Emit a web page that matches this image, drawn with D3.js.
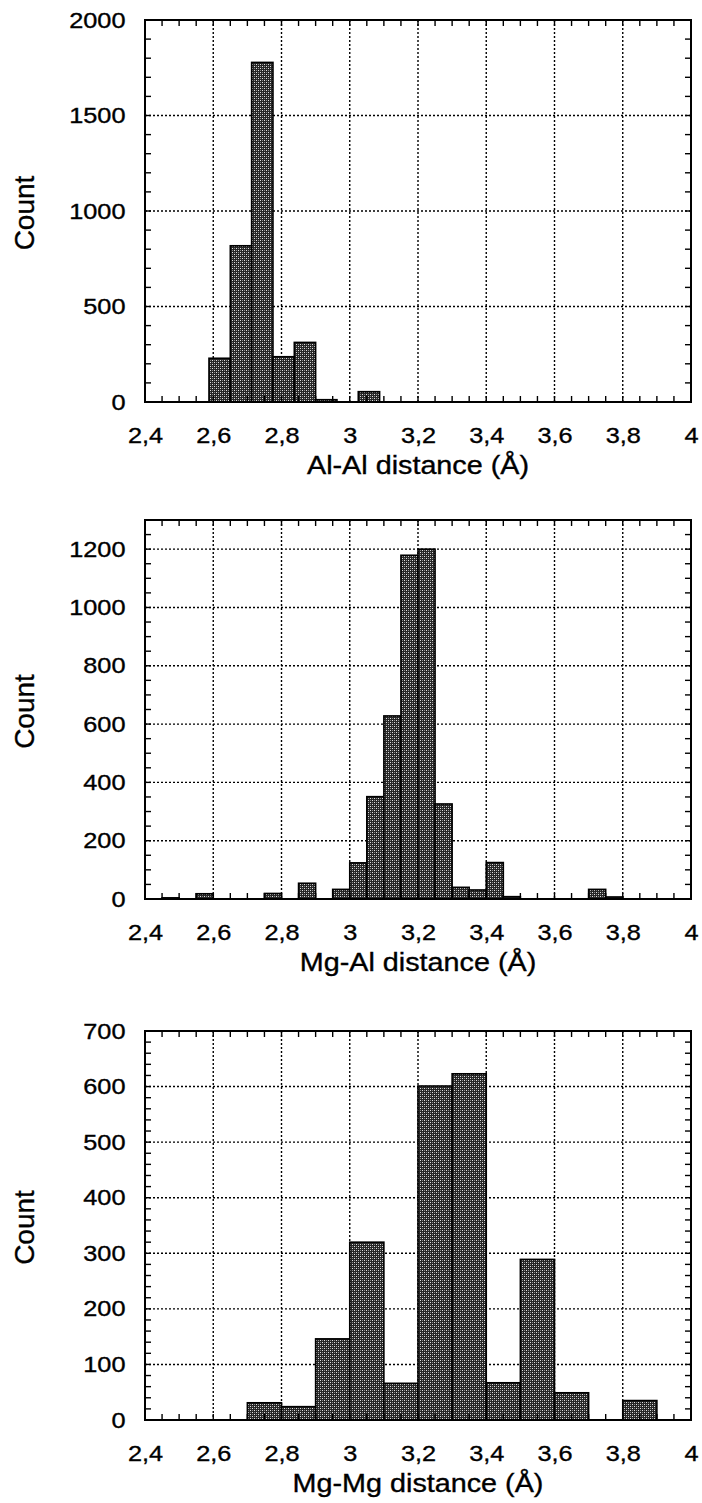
<!DOCTYPE html>
<html lang="en">
<head>
<meta charset="UTF-8">
<title>Distance histograms</title>
<style>
    body {
        margin: 0;
        padding: 0;
        background: #fff;
    }

    svg {
        display: block;
    }

    text {
        font-family: "Liberation Sans", Arial, Helvetica, sans-serif;
        fill: #000;
        stroke: #000;
        stroke-width: 0.35px;
    }
</style>
</head>
<body>
<div id="chart"></div>
<script src="https://cdn.jsdelivr.net/npm/d3@7"></script>
<script>
    // shared x ticks (distance, Å)
    const xTicks = [2.4, 2.6, 2.8, 3.0, 3.2, 3.4, 3.6, 3.8, 4.0];

    // Al-Al histogram
    const alalBinStart = 2.5875;
    const alalBinWidth = 0.0625;
    const alalCounts = [229, 818, 1778, 237, 312, 12, 0, 54];
    const alalYTicks = [0, 500, 1000, 1500, 2000];

    // Mg-Al histogram
    const mgalBinStart = 2.4;
    const mgalBinWidth = 0.05;
    const mgalCounts = [0, 4, 0, 18, 0, 0, 0, 19, 0, 54, 0, 33, 124, 351, 628, 1179,
        1200, 326, 40, 31, 125, 8, 0, 0, 0, 0, 33, 7, 0, 0, 0, 0];
    const mgalYTicks = [0, 200, 400, 600, 800, 1000, 1200];

    // Mg-Mg histogram
    const mgmgBinStart = 2.4;
    const mgmgBinWidth = 0.1;
    const mgmgCounts = [0, 0, 0, 31, 24, 146, 320, 66, 601, 623, 67, 289, 49, 0, 35, 0];
    const mgmgYTicks = [0, 100, 200, 300, 400, 500, 600, 700];

    const w = 702;
    const h = 1503;
    const left = 145;
    const right = 691;
    const stretch = 1.15; // the scanned lettering is a bit wider than Arial

    const panels = [
        { title: "Al-Al distance (Å)", start: alalBinStart, bw: alalBinWidth, counts: alalCounts,
          yTicks: alalYTicks, yMax: 2000, yMinor: 100, top: 20, bottom: 402 },
        { title: "Mg-Al distance (Å)", start: mgalBinStart, bw: mgalBinWidth, counts: mgalCounts,
          yTicks: mgalYTicks, yMax: 1300, yMinor: 50, top: 520, bottom: 899 },
        { title: "Mg-Mg distance (Å)", start: mgmgBinStart, bw: mgmgBinWidth, counts: mgmgCounts,
          yTicks: mgmgYTicks, yMax: 700, yMinor: 20, top: 1031, bottom: 1420 }
    ];

    const svg = d3.select("#chart")
        .append("svg")
        .attr("width", w)
        .attr("height", h)
        .style("background", "#fff");

    // dithered fill like the printed bars
    const pat = svg.append("defs").append("pattern")
        .attr("id", "dither")
        .attr("patternUnits", "userSpaceOnUse")
        .attr("width", 4)
        .attr("height", 4);
    pat.append("rect").attr("width", 4).attr("height", 4).attr("fill", "#262626");
    pat.append("rect").attr("x", 0).attr("y", 0).attr("width", 1).attr("height", 1).attr("fill", "#e0e0e0");
    pat.append("rect").attr("x", 2).attr("y", 2).attr("width", 1).attr("height", 1).attr("fill", "#e0e0e0");
    pat.append("rect").attr("x", 2).attr("y", 0).attr("width", 1).attr("height", 1).attr("fill", "#8a8a8a");
    pat.append("rect").attr("x", 0).attr("y", 2).attr("width", 1).attr("height", 1).attr("fill", "#8a8a8a");

    const fmt = d => String(+d.toFixed(2)).replace(".", ",");

    const x = d3.scaleLinear().domain([2.4, 4.0]).range([left, right]);

    panels.forEach(p => {
        const y = d3.scaleLinear().domain([0, p.yMax]).range([p.bottom, p.top]);
        const g = svg.append("g");

        // dotted grid
        g.selectAll(".vgrid")
            .data(xTicks.slice(1, -1))
            .enter()
            .append("line")
            .attr("x1", d => x(d)).attr("x2", d => x(d))
            .attr("y1", p.top).attr("y2", p.bottom)
            .attr("stroke", "#000")
            .attr("stroke-width", 1.4)
            .attr("stroke-dasharray", "2,2");

        g.selectAll(".hgrid")
            .data(p.yTicks.filter(t => t > 0 && t < p.yMax))
            .enter()
            .append("line")
            .attr("x1", left).attr("x2", right)
            .attr("y1", d => y(d)).attr("y2", d => y(d))
            .attr("stroke", "#000")
            .attr("stroke-width", 1.4)
            .attr("stroke-dasharray", "2,2");

        // bars
        const bins = p.counts
            .map((c, i) => ({ x0: p.start + i * p.bw, x1: p.start + (i + 1) * p.bw, c: c }))
            .filter(b => b.c > 0);

        g.selectAll(".bar")
            .data(bins)
            .enter()
            .append("rect")
            .attr("x", d => x(d.x0))
            .attr("width", d => x(d.x1) - x(d.x0))
            .attr("y", d => y(d.c))
            .attr("height", d => y(0) - y(d.c))
            .attr("fill", "url(#dither)")
            .attr("stroke", "#000")
            .attr("stroke-width", 1.6);

        // minor ticks, inside, on all four sides
        const xMinor = d3.range(1, 32).map(i => 2.4 + i * 0.05);
        const yMinor = d3.range(1, Math.round(p.yMax / p.yMinor)).map(i => i * p.yMinor);
        const tl = 6;

        g.selectAll(".xtb")
            .data(xMinor)
            .enter()
            .append("line")
            .attr("x1", d => x(d)).attr("x2", d => x(d))
            .attr("y1", p.bottom).attr("y2", p.bottom - tl)
            .attr("stroke", "#000").attr("stroke-width", 1.4);
        g.selectAll(".xtt")
            .data(xMinor)
            .enter()
            .append("line")
            .attr("x1", d => x(d)).attr("x2", d => x(d))
            .attr("y1", p.top).attr("y2", p.top + tl)
            .attr("stroke", "#000").attr("stroke-width", 1.4);
        g.selectAll(".ytl")
            .data(yMinor)
            .enter()
            .append("line")
            .attr("x1", left).attr("x2", left + tl)
            .attr("y1", d => y(d)).attr("y2", d => y(d))
            .attr("stroke", "#000").attr("stroke-width", 1.4);
        g.selectAll(".ytr")
            .data(yMinor)
            .enter()
            .append("line")
            .attr("x1", right).attr("x2", right - tl)
            .attr("y1", d => y(d)).attr("y2", d => y(d))
            .attr("stroke", "#000").attr("stroke-width", 1.4);

        // frame
        g.append("rect")
            .attr("x", left)
            .attr("y", p.top)
            .attr("width", right - left)
            .attr("height", p.bottom - p.top)
            .attr("fill", "none")
            .attr("stroke", "#000")
            .attr("stroke-width", 2);

        // tick labels
        const xAxis = g.append("g")
            .attr("transform", `translate(0, ${p.bottom})`)
            .call(d3.axisBottom(x).tickValues(xTicks).tickFormat(fmt).tickSize(0).tickPadding(25));
        xAxis.select(".domain").remove();
        xAxis.selectAll("text")
            .attr("font-size", 22)
            .attr("transform", `scale(${stretch},1)`);

        const yAxis = g.append("g")
            .attr("transform", `translate(${left}, 0)`)
            .call(d3.axisLeft(y).tickValues(p.yTicks).tickFormat(d3.format("d")).tickSize(0).tickPadding(17));
        yAxis.select(".domain").remove();
        yAxis.selectAll("text")
            .attr("font-size", 22)
            .attr("transform", `scale(${stretch},1)`);

        g.selectAll(".tick text").style("font-family", "'Liberation Sans', Arial, sans-serif").attr("fill", "#000");

        // axis titles
        g.append("g")
            .attr("transform", `translate(${(left + right) / 2}, ${p.bottom + 72})`)
            .append("text")
            .attr("text-anchor", "middle")
            .attr("font-size", 25)
            .attr("transform", `scale(${stretch},1)`)
            .text(p.title);

        g.append("text")
            .attr("transform", `translate(34, ${(p.top + p.bottom) / 2 + 2}) rotate(-90)`)
            .attr("text-anchor", "middle")
            .attr("font-size", 28)
            .text("Count");
    });
</script>
</body>
</html>
